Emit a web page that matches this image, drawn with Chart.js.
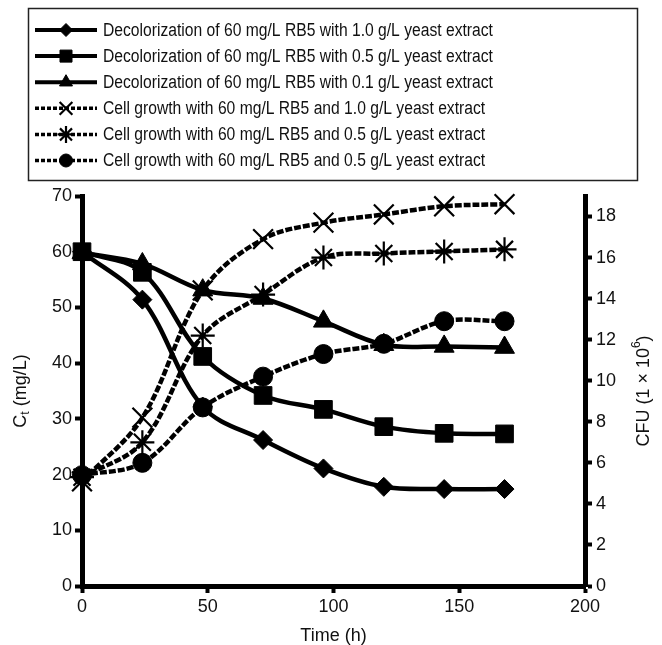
<!DOCTYPE html>
<html>
<head>
<meta charset="utf-8">
<script src="https://cdn.jsdelivr.net/npm/chart.js@4.4.0/dist/chart.umd.min.js"></script>
<style>
  html, body { margin: 0; padding: 0; background: #fff; }
  #wrap { width: 662px; height: 645px; }
</style>
</head>
<body>
<div id="wrap"><canvas id="chart" width="662" height="645"></canvas></div>
<script>
// time points (h)
const timeH = [0, 24, 48, 72, 96, 120, 144, 168];

// dye concentration Ct (mg/L), left axis
const decol10 = [60, 51.4, 32.2, 26.2, 21.1, 17.8, 17.4, 17.4];
const decol05 = [60, 56.3, 41.2, 34.2, 31.7, 28.6, 27.4, 27.3];
const decol01 = [59.8, 57.8, 53.1, 51.6, 47.5, 43.3, 43.0, 42.8];

// CFU (x 10^6), right axis
const cfu10 = [5.1, 8.2, 14.4, 16.9, 17.7, 18.1, 18.5, 18.6];
const cfu05 = [5.3, 7.0, 12.2, 14.2, 16.0, 16.2, 16.3, 16.4];
const cfu05b = [5.4, 6.0, 8.7, 10.2, 11.3, 11.8, 12.9, 12.9];

const seriesLabels = [
    'Decolorization of 60 mg/L RB5 with 1.0 g/L yeast extract',
    'Decolorization of 60 mg/L RB5 with 0.5 g/L yeast extract',
    'Decolorization of 60 mg/L RB5 with 0.1 g/L yeast extract',
    'Cell growth with 60 mg/L RB5 and 1.0 g/L yeast extract',
    'Cell growth with 60 mg/L RB5 and 0.5 g/L yeast extract',
    'Cell growth with 60 mg/L RB5 and 0.5 g/L yeast extract'
];

const xTicks = [0, 50, 100, 150, 200];

const FONT = '"Liberation Sans", Arial, sans-serif';
const legendRadius = [6.5, 8.5, 7.5, 9, 8.5, 6.5];

const pts = vals => vals.map((v, i) => ({ x: timeH[i], y: v }));

function series(label, vals, axis, style, radius, dashed, bw) {
    return {
        label: label,
        data: pts(vals),
        yAxisID: axis,
        borderColor: '#000',
        backgroundColor: '#000',
        borderWidth: 4.5,
        borderDash: dashed ? [7, 2] : [],
        pointStyle: style,
        pointRadius: radius,
        pointBackgroundColor: '#000',
        pointBorderColor: '#000',
        pointBorderWidth: bw,
        tension: 0.35,
        fill: false,
        clip: false
    };
}

// box legend with line + marker samples
const boxLegend = {
    id: 'boxLegend',
    afterDraw(chart) {
        const ctx = chart.ctx;
        ctx.save();
        ctx.lineWidth = 1.5;
        ctx.strokeStyle = '#222';
        ctx.strokeRect(28.5, 8.5, 609, 172);
        chart.data.datasets.forEach((ds, i) => {
            const y = 30 + i * 26.1;
            const dashed = ds.borderDash.length > 0;
            ctx.save();
            ctx.strokeStyle = '#000';
            ctx.fillStyle = '#000';
            ctx.lineWidth = dashed ? 3.5 : 4;
            ctx.setLineDash(dashed ? [4, 2] : []);
            ctx.beginPath();
            ctx.moveTo(35, y);
            ctx.lineTo(97, y);
            ctx.stroke();
            ctx.setLineDash([]);
            ctx.lineWidth = ds.pointBorderWidth;
            Chart.helpers.drawPoint(ctx, {
                pointStyle: ds.pointStyle,
                radius: legendRadius[i],
                borderWidth: ds.pointBorderWidth,
                rotation: 0
            }, 66, y);
            ctx.font = '18px ' + FONT;
            ctx.textBaseline = 'middle';
            ctx.fillStyle = '#111';
            ctx.translate(103, y + 1);
            ctx.scale(0.87, 1);
            ctx.fillText(ds.label, 0, 0);
            ctx.restore();
        });
        ctx.restore();
    }
};

// axis titles with sub/superscripts
const axisTitles = {
    id: 'axisTitles',
    afterDraw(chart) {
        const ctx = chart.ctx;
        const area = chart.chartArea;
        const big = '18px ' + FONT, small = '12px ' + FONT;
        ctx.save();
        ctx.fillStyle = '#111';
        ctx.textBaseline = 'middle';

        ctx.font = big;
        ctx.textAlign = 'center';
        ctx.fillText('Time (h)', (area.left + area.right) / 2, 636);
        ctx.textAlign = 'left';

        const widthsOf = list => list.map(p => { ctx.font = p[1]; return ctx.measureText(p[0]).width; });
        const drawRot = (cx, cy, list) => {
            const widths = widthsOf(list);
            const total = widths.reduce((a, b) => a + b, 0);
            ctx.save();
            ctx.translate(cx, cy);
            ctx.rotate(-Math.PI / 2);
            let x = -total / 2;
            list.forEach((p, k) => {
                ctx.font = p[1];
                ctx.fillText(p[0], x, p[2]);
                x += widths[k];
            });
            ctx.restore();
        };
        drawRot(21, (area.top + area.bottom) / 2, [['C', big, 0], ['t', small, 5], [' (mg/L)', big, 0]]);
        drawRot(644, (area.top + area.bottom) / 2, [['CFU (1 \u00d7 10', big, 0], ['6', small, -7], [')', big, 0]]);
        ctx.restore();
    }
};

const tickFont = { family: FONT, size: 18 };
const axisGrid = { drawOnChartArea: false, drawTicks: true, tickLength: 7, tickWidth: 4, tickColor: '#000', color: '#000' };
const axisBorder = { display: true, width: 5, color: '#000' };

new Chart(document.getElementById('chart'), {
    type: 'line',
    data: {
        datasets: [
            series(seriesLabels[0], decol10, 'y', 'rectRot', 9.5, false, 1),
            series(seriesLabels[1], decol05, 'y', 'rect', 12.5, false, 1),
            series(seriesLabels[2], decol01, 'y', 'triangle', 11.5, false, 1),
            series(seriesLabels[3], cfu10, 'y1', 'crossRot', 14, true, 2.2),
            series(seriesLabels[4], cfu05, 'y1', 'star', 12, true, 2.2),
            series(seriesLabels[5], cfu05b, 'y1', 'circle', 9.5, true, 1)
        ]
    },
    options: {
        responsive: false,
        animation: false,
        events: [],
        layout: { padding: { top: 196, left: 0, right: 0, bottom: 0 } },
        plugins: { legend: { display: false }, tooltip: { enabled: false } },
        scales: {
            x: {
                type: 'linear',
                min: 0, max: 200,
                afterBuildTicks: s => { s.ticks = xTicks.map(v => ({ value: v })); },
                afterFit: s => { s.height = 59; },
                grid: axisGrid,
                border: axisBorder,
                ticks: { font: tickFont, color: '#111', padding: 3, maxRotation: 0 }
            },
            y: {
                position: 'left',
                min: 0, max: 70,
                ticks: { stepSize: 10, font: tickFont, color: '#111', padding: 3 },
                afterFit: s => { s.width = 82; },
                grid: axisGrid,
                border: axisBorder
            },
            y1: {
                position: 'right',
                min: 0, max: 19,
                ticks: { stepSize: 2, font: tickFont, color: '#111', padding: 4 },
                afterBuildTicks: s => { s.ticks = s.ticks.filter(t => t.value % 2 === 0); },
                afterFit: s => { s.width = 77; },
                grid: axisGrid,
                border: axisBorder
            }
        }
    },
    plugins: [boxLegend, axisTitles]
});
</script>
</body>
</html>
